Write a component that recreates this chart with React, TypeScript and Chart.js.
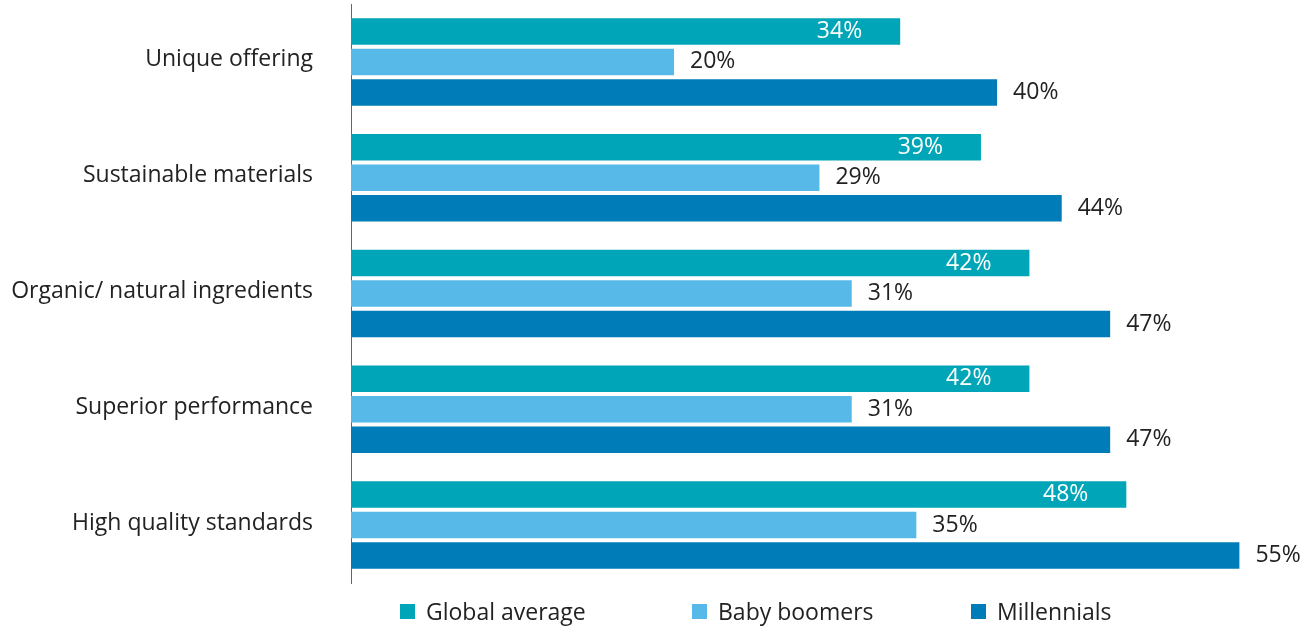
import React, { useEffect, useRef } from "react";
import { Chart, registerables } from "chart.js";

Chart.register(...registerables);

const categories = [
  "Unique offering",
  "Sustainable materials",
  "Organic/ natural ingredients",
  "Superior performance",
  "High quality standards",
];
const seriesNames = ["Global average", "Baby boomers", "Millennials"];
const globalAverage = [34, 39, 42, 42, 48];
const babyBoomers = [20, 29, 31, 31, 35];
const millennials = [40, 44, 47, 47, 55];
const colors = ["#00A6B7", "#56B9E8", "#007DB8"];
const FONT = "'Open Sans', 'Noto Sans', sans-serif";
const FONT_SIZE = 23;

const valueLabels = {
  id: "valueLabels",
  afterDatasetsDraw(chart: any) {
    const ctx = chart.ctx;
    ctx.save();
    ctx.font = `${FONT_SIZE}px ${FONT}`;
    ctx.textBaseline = "middle";
    chart.data.datasets.forEach((ds: any, di: number) => {
      const meta = chart.getDatasetMeta(di);
      meta.data.forEach((bar: any, i: number) => {
        const txt = ds.data[i] + "%";
        if (di === 0) {
          ctx.fillStyle = "#ffffff";
          ctx.textAlign = "right";
          ctx.fillText(txt, bar.x - 38, bar.y);
        } else {
          ctx.fillStyle = "#222222";
          ctx.textAlign = "left";
          ctx.fillText(txt, bar.x + 16, bar.y);
        }
      });
    });
    ctx.restore();
  },
};

export default function App() {
  const ref = useRef<HTMLCanvasElement>(null);
  useEffect(() => {
    const chart = new Chart(ref.current!, {
      type: "bar",
      data: {
        labels: categories,
        datasets: [
          { label: seriesNames[0], data: globalAverage, backgroundColor: colors[0] },
          { label: seriesNames[1], data: babyBoomers, backgroundColor: colors[1] },
          { label: seriesNames[2], data: millennials, backgroundColor: colors[2] },
        ],
      },
      options: {
        indexAxis: "y",
        animation: false,
        responsive: false,
        maintainAspectRatio: false,
        layout: { padding: { top: 4, bottom: 44, left: 0, right: 10 } },
        datasets: {
          bar: { categoryPercentage: 0.79, barPercentage: 0.87 },
        } as any,
        plugins: { legend: { display: false }, tooltip: { enabled: false } },
        scales: {
          x: { display: false, min: 0, max: 59 },
          y: {
            afterFit(scale: any) {
              scale.width = 351;
              scale.paddingTop = 0;
              scale.paddingBottom = 0;
            },
            grid: { display: false, drawTicks: false },
            border: { display: true, color: "#666666", width: 1 },
            ticks: {
              padding: 38,
              labelOffset: -2,
              color: "#222222",
              font: { family: FONT, size: FONT_SIZE },
            },
          },
        },
      },
      plugins: [valueLabels],
    });
    return () => chart.destroy();
  }, []);

  const legendX = [400, 692, 971];
  return (
    <div style={{ position: "absolute", left: 0, top: 0, width: 1314, height: 627, background: "#fff" }}>
      <canvas ref={ref} width={1314} height={627} style={{ display: "block" }} />
      {seriesNames.map((n, i) => (
        <div
          key={n}
          style={{
            position: "absolute",
            left: legendX[i],
            top: 596,
            height: 30,
            display: "flex",
            alignItems: "center",
            fontFamily: FONT,
            fontSize: FONT_SIZE,
            color: "#222",
            whiteSpace: "nowrap",
          }}
        >
          <span style={{ display: "inline-block", width: 15, height: 15, background: colors[i], marginRight: 11 }} />
          {n}
        </div>
      ))}
    </div>
  );
}
